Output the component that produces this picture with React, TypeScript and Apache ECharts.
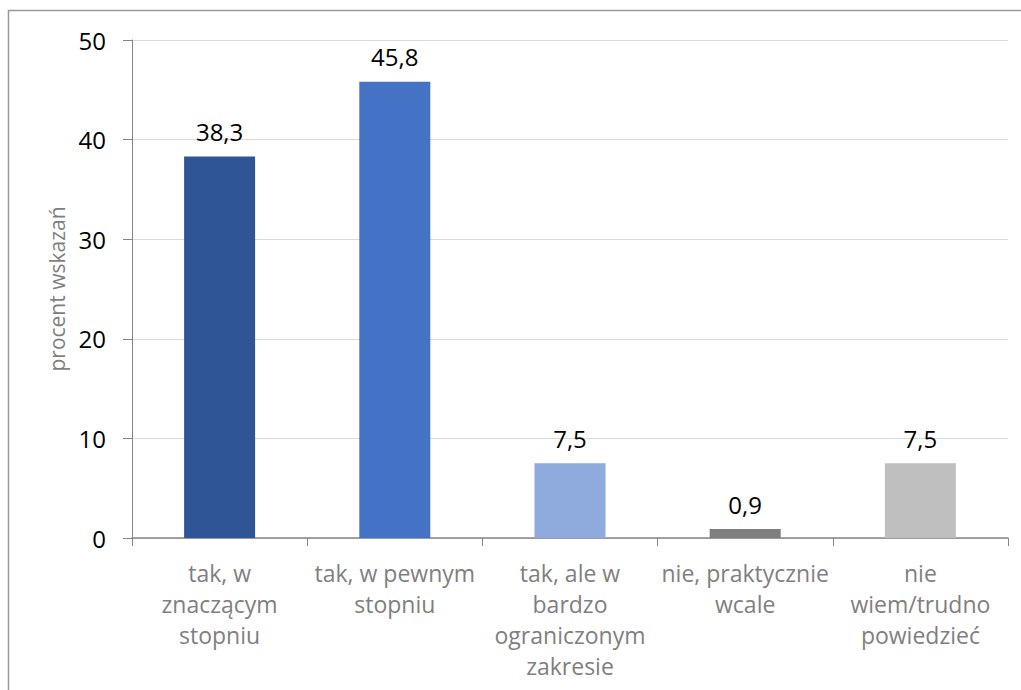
import React, { useEffect, useRef } from "react";
import * as echarts from "echarts";

const categories = [
  "tak, w\nznaczącym\nstopniu",
  "tak, w pewnym\nstopniu",
  "tak, ale w\nbardzo\nograniczonym\nzakresie",
  "nie, praktycznie\nwcale",
  "nie\nwiem/trudno\npowiedzieć",
];
const values = [38.3, 45.8, 7.5, 0.9, 7.5];
const barColors = ["#2F5597", "#4472C4", "#8FAADC", "#7F7F7F", "#BFBFBF"];
const yAxisName = "procent wskazań";

export default function App() {
  const ref = useRef<HTMLDivElement>(null);
  useEffect(() => {
    const chart = echarts.init(ref.current!, undefined, { renderer: "svg" });
    const font = "'Open Sans', 'Noto Sans', sans-serif";
    chart.setOption({
      animation: false,
      textStyle: { fontFamily: font },
      grid: { left: 132, top: 40, right: 13, bottom: 152, containLabel: false },
      graphic: [
        {
          type: "rect",
          shape: { x: 8.5, y: 10.5, width: 1030, height: 700 },
          style: { fill: "none", stroke: "#9a9a9a", lineWidth: 1.5 },
          silent: true,
          z: -10,
        },
      ],
      xAxis: {
        type: "category",
        data: categories,
        axisLine: { lineStyle: { color: "#868686", width: 1.5 } },
        axisTick: { show: true, length: 8, alignWithLabel: false, lineStyle: { color: "#868686" } },
        axisLabel: {
          interval: 0,
          color: "#7F7F7F",
          fontSize: 23,
          lineHeight: 31,
          margin: 19,
          fontFamily: font,
        },
      },
      yAxis: {
        type: "value",
        min: 0,
        max: 50,
        interval: 10,
        name: yAxisName,
        nameLocation: "middle",
        nameGap: 64,
        nameRotate: 90,
        nameTextStyle: { color: "#7F7F7F", fontSize: 21, fontFamily: font },
        axisLine: { show: true, lineStyle: { color: "#868686" } },
        axisTick: { show: true, length: 9, lineStyle: { color: "#868686" } },
        axisLabel: { color: "#000", fontSize: 24, margin: 26, fontFamily: font },
        splitLine: { lineStyle: { color: "#D9D9D9", width: 1 } },
      },
      series: [
        {
          type: "bar",
          data: values.map((v, i) => ({ value: v, itemStyle: { color: barColors[i] } })),
          barWidth: 71,
          label: {
            show: true,
            position: "top",
            distance: 13,
            color: "#000",
            fontSize: 24,
            fontFamily: font,
            formatter: (p: any) => String(p.value).replace(".", ","),
          },
        },
      ],
    });
    return () => chart.dispose();
  }, []);
  return (
    <div
      ref={ref}
      style={{ position: "absolute", left: 0, top: 0, width: 1021, height: 690, background: "#fff" }}
    />
  );
}
